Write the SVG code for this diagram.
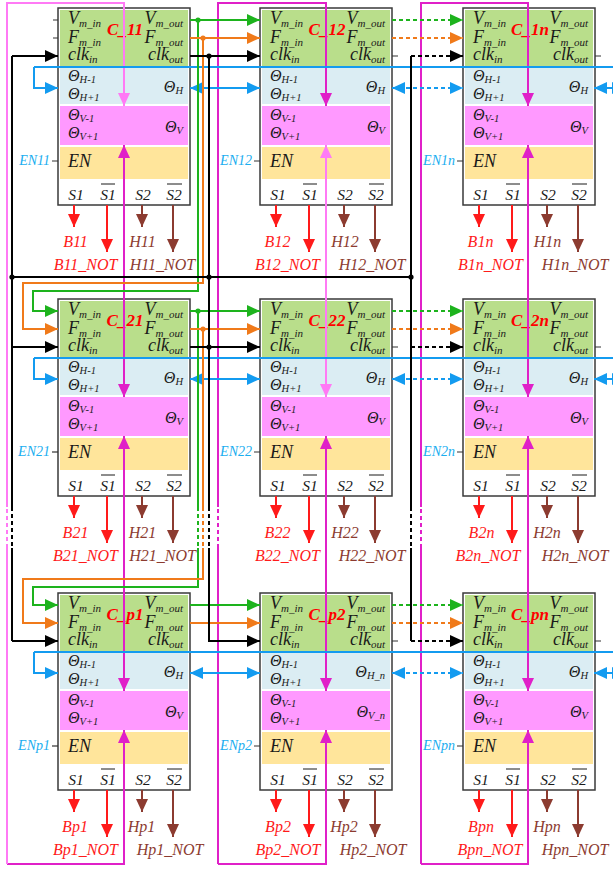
<svg xmlns="http://www.w3.org/2000/svg" width="613" height="870" viewBox="0 0 613 870">
<defs>
<style>
.box{fill:#fff;stroke:#3a3a3a;stroke-width:1.5}
.zg{fill:#b9de8b}.zb{fill:#dbedf3}.zm{fill:#ff99ff}.zy{fill:#ffe59b}
text{font-family:"Liberation Serif","Times New Roman",serif;font-style:italic}
.t{font-size:18px;fill:#1a1a1a}
.q{font-size:16px;fill:#1a1a1a}
.s{font-size:11px}
.s2{font-size:10.5px}
.e{text-anchor:end}
.nm{font-weight:bold;font-size:17px;fill:#ff0000;text-anchor:middle}
.sl{font-size:15.5px;fill:#1a1a1a;text-anchor:middle}
.ov{stroke:#1a1a1a;stroke-width:1;fill:none}
.lb{font-size:16px;text-anchor:middle}
.r{fill:#ff1a1a}.b{fill:#8c3b30}
.en{font-size:14px;fill:#1aaef0;text-anchor:end}
.tk{stroke:#333;stroke-width:1.2;fill:none}
.ln{fill:none;stroke-width:2}
.g{stroke:#1db31d}.o{stroke:#f07a1a}.k{stroke:#000}.bl{stroke:#139bf0}.mg{stroke:#e020c8}.lp{stroke:#ff7af5}.rd{stroke:#ff1a1a}.bn{stroke:#8c3b30}
.d{stroke-dasharray:4 3}
</style>
<marker id="mG" viewBox="0 0 13 12" refX="13" refY="6" markerWidth="13" markerHeight="12" markerUnits="userSpaceOnUse" orient="auto-start-reverse"><path d="M0,0 L13,6 L0,12 z" fill="#1db31d"/></marker>
<marker id="mO" viewBox="0 0 13 12" refX="13" refY="6" markerWidth="13" markerHeight="12" markerUnits="userSpaceOnUse" orient="auto-start-reverse"><path d="M0,0 L13,6 L0,12 z" fill="#f07a1a"/></marker>
<marker id="mK" viewBox="0 0 13 12" refX="13" refY="6" markerWidth="13" markerHeight="12" markerUnits="userSpaceOnUse" orient="auto-start-reverse"><path d="M0,0 L13,6 L0,12 z" fill="#000"/></marker>
<marker id="mB" viewBox="0 0 13 12" refX="13" refY="6" markerWidth="13" markerHeight="12" markerUnits="userSpaceOnUse" orient="auto-start-reverse"><path d="M0,0 L13,6 L0,12 z" fill="#139bf0"/></marker>
<marker id="mM" viewBox="0 0 13 12" refX="13" refY="6" markerWidth="13" markerHeight="12" markerUnits="userSpaceOnUse" orient="auto-start-reverse"><path d="M0,0 L13,6 L0,12 z" fill="#e020c8"/></marker>
<marker id="mL" viewBox="0 0 13 12" refX="13" refY="6" markerWidth="13" markerHeight="12" markerUnits="userSpaceOnUse" orient="auto-start-reverse"><path d="M0,0 L13,6 L0,12 z" fill="#ff7af5"/></marker>
<marker id="mR" viewBox="0 0 13 12" refX="13" refY="6" markerWidth="13" markerHeight="12" markerUnits="userSpaceOnUse" orient="auto-start-reverse"><path d="M0,0 L13,6 L0,12 z" fill="#ff1a1a"/></marker>
<marker id="mN" viewBox="0 0 13 12" refX="13" refY="6" markerWidth="13" markerHeight="12" markerUnits="userSpaceOnUse" orient="auto-start-reverse"><path d="M0,0 L13,6 L0,12 z" fill="#8c3b30"/></marker>
</defs>
<rect width="613" height="870" fill="#fff"/>

<g id="nodes">
<g id="C11" transform="translate(58,8)">
<rect class="box" width="132" height="197"/><rect class="zg" x="2" y="2" width="128" height="56"/><rect class="zb" x="2" y="60" width="128" height="36"/><rect class="zm" x="2" y="98" width="128" height="39"/><rect class="zy" x="2" y="139" width="128" height="32"/>
<text class="t" x="10" y="16">V<tspan class="s" dy="3">m_in</tspan></text><text class="t" x="10" y="35">F<tspan class="s" dy="3">m_in</tspan></text><text class="t" x="10" y="52">clk<tspan class="s" dy="3">in</tspan></text>
<text class="t e" x="125" y="16">V<tspan class="s" dy="3">m_out</tspan></text><text class="t e" x="125" y="35">F<tspan class="s" dy="3">m_out</tspan></text><text class="t e" x="125" y="52">clk<tspan class="s" dy="3">out</tspan></text>
<text class="nm" x="67" y="27">C_11</text>
<text class="q" x="10" y="73">Θ<tspan class="s2" dy="2">H-1</tspan></text><text class="q" x="10" y="91">Θ<tspan class="s2" dy="2">H+1</tspan></text><text class="q e" x="125" y="84">Θ<tspan class="s2" dy="2">H</tspan></text>
<text class="q" x="10" y="112">Θ<tspan class="s2" dy="2">V-1</tspan></text><text class="q" x="10" y="130">Θ<tspan class="s2" dy="2">V+1</tspan></text><text class="q e" x="125" y="124">Θ<tspan class="s2" dy="2">V</tspan></text>
<text class="t" x="10" y="159">EN</text>
<text class="sl" x="18" y="192">S1</text><text class="sl" x="50" y="192">S1</text><text class="sl" x="85" y="192">S2</text><text class="sl" x="116" y="192">S2</text><path class="ov" d="M43,176H57M109,176H124"/>
<text class="en" x="-8" y="157">EN11</text><path class="tk" d="M-6,153H0M-5,12H0M-5,30H0"/>
<path class="ln rd" d="M16,197V219" marker-end="url(#mR)"/><path class="ln rd" d="M49,197V244" marker-end="url(#mR)"/><path class="ln bn" d="M84,197V219" marker-end="url(#mN)"/><path class="ln bn" d="M115,197V244" marker-end="url(#mN)"/>
<text class="lb r" x="17.5" y="239">B11</text><text class="lb r" x="27.5" y="262">B11_NOT</text><text class="lb b" x="84.5" y="239">H11</text><text class="lb b" x="104.5" y="262">H11_NOT</text>
</g>
<g id="C12" transform="translate(260,8)">
<rect class="box" width="132" height="197"/><rect class="zg" x="2" y="2" width="128" height="56"/><rect class="zb" x="2" y="60" width="128" height="36"/><rect class="zm" x="2" y="98" width="128" height="39"/><rect class="zy" x="2" y="139" width="128" height="32"/>
<text class="t" x="10" y="16">V<tspan class="s" dy="3">m_in</tspan></text><text class="t" x="10" y="35">F<tspan class="s" dy="3">m_in</tspan></text><text class="t" x="10" y="52">clk<tspan class="s" dy="3">in</tspan></text>
<text class="t e" x="125" y="16">V<tspan class="s" dy="3">m_out</tspan></text><text class="t e" x="125" y="35">F<tspan class="s" dy="3">m_out</tspan></text><text class="t e" x="125" y="52">clk<tspan class="s" dy="3">out</tspan></text>
<text class="nm" x="67" y="27">C_12</text>
<text class="q" x="10" y="73">Θ<tspan class="s2" dy="2">H-1</tspan></text><text class="q" x="10" y="91">Θ<tspan class="s2" dy="2">H+1</tspan></text><text class="q e" x="125" y="84">Θ<tspan class="s2" dy="2">H</tspan></text>
<text class="q" x="10" y="112">Θ<tspan class="s2" dy="2">V-1</tspan></text><text class="q" x="10" y="130">Θ<tspan class="s2" dy="2">V+1</tspan></text><text class="q e" x="125" y="124">Θ<tspan class="s2" dy="2">V</tspan></text>
<text class="t" x="10" y="159">EN</text>
<text class="sl" x="18" y="192">S1</text><text class="sl" x="50" y="192">S1</text><text class="sl" x="85" y="192">S2</text><text class="sl" x="116" y="192">S2</text><path class="ov" d="M43,176H57M109,176H124"/>
<text class="en" x="-8" y="157">EN12</text><path class="tk" d="M-6,153H0M132,48H138"/>
<path class="ln rd" d="M16,197V219" marker-end="url(#mR)"/><path class="ln rd" d="M49,197V244" marker-end="url(#mR)"/><path class="ln bn" d="M84,197V219" marker-end="url(#mN)"/><path class="ln bn" d="M115,197V244" marker-end="url(#mN)"/>
<text class="lb r" x="17.5" y="239">B12</text><text class="lb r" x="27.5" y="262">B12_NOT</text><text class="lb b" x="85" y="239">H12</text><text class="lb b" x="112" y="262">H12_NOT</text>
</g>
<g id="C1n" transform="translate(463,8)">
<rect class="box" width="132" height="197"/><rect class="zg" x="2" y="2" width="128" height="56"/><rect class="zb" x="2" y="60" width="128" height="36"/><rect class="zm" x="2" y="98" width="128" height="39"/><rect class="zy" x="2" y="139" width="128" height="32"/>
<text class="t" x="10" y="16">V<tspan class="s" dy="3">m_in</tspan></text><text class="t" x="10" y="35">F<tspan class="s" dy="3">m_in</tspan></text><text class="t" x="10" y="52">clk<tspan class="s" dy="3">in</tspan></text>
<text class="t e" x="125" y="16">V<tspan class="s" dy="3">m_out</tspan></text><text class="t e" x="125" y="35">F<tspan class="s" dy="3">m_out</tspan></text><text class="t e" x="125" y="52">clk<tspan class="s" dy="3">out</tspan></text>
<text class="nm" x="67" y="27">C_1n</text>
<text class="q" x="10" y="73">Θ<tspan class="s2" dy="2">H-1</tspan></text><text class="q" x="10" y="91">Θ<tspan class="s2" dy="2">H+1</tspan></text><text class="q e" x="125" y="84">Θ<tspan class="s2" dy="2">H</tspan></text>
<text class="q" x="10" y="112">Θ<tspan class="s2" dy="2">V-1</tspan></text><text class="q" x="10" y="130">Θ<tspan class="s2" dy="2">V+1</tspan></text><text class="q e" x="125" y="124">Θ<tspan class="s2" dy="2">V</tspan></text>
<text class="t" x="10" y="159">EN</text>
<text class="sl" x="18" y="192">S1</text><text class="sl" x="50" y="192">S1</text><text class="sl" x="85" y="192">S2</text><text class="sl" x="116" y="192">S2</text><path class="ov" d="M43,176H57M109,176H124"/>
<text class="en" x="-8" y="157">EN1n</text><path class="tk" d="M-6,153H0M132,48H138"/>
<path class="ln rd" d="M16,197V219" marker-end="url(#mR)"/><path class="ln rd" d="M49,197V244" marker-end="url(#mR)"/><path class="ln bn" d="M84,197V219" marker-end="url(#mN)"/><path class="ln bn" d="M115,197V244" marker-end="url(#mN)"/>
<text class="lb r" x="17.5" y="239">B1n</text><text class="lb r" x="27.5" y="262">B1n_NOT</text><text class="lb b" x="84.5" y="239">H1n</text><text class="lb b" x="112" y="262">H1n_NOT</text>
</g>

<g id="C21" transform="translate(58,299)">
<rect class="box" width="132" height="197"/><rect class="zg" x="2" y="2" width="128" height="56"/><rect class="zb" x="2" y="60" width="128" height="36"/><rect class="zm" x="2" y="98" width="128" height="39"/><rect class="zy" x="2" y="139" width="128" height="32"/>
<text class="t" x="10" y="16">V<tspan class="s" dy="3">m_in</tspan></text><text class="t" x="10" y="35">F<tspan class="s" dy="3">m_in</tspan></text><text class="t" x="10" y="52">clk<tspan class="s" dy="3">in</tspan></text>
<text class="t e" x="125" y="16">V<tspan class="s" dy="3">m_out</tspan></text><text class="t e" x="125" y="35">F<tspan class="s" dy="3">m_out</tspan></text><text class="t e" x="125" y="52">clk<tspan class="s" dy="3">out</tspan></text>
<text class="nm" x="67" y="27">C_21</text>
<text class="q" x="10" y="73">Θ<tspan class="s2" dy="2">H-1</tspan></text><text class="q" x="10" y="91">Θ<tspan class="s2" dy="2">H+1</tspan></text><text class="q e" x="125" y="84">Θ<tspan class="s2" dy="2">H</tspan></text>
<text class="q" x="10" y="112">Θ<tspan class="s2" dy="2">V-1</tspan></text><text class="q" x="10" y="130">Θ<tspan class="s2" dy="2">V+1</tspan></text><text class="q e" x="125" y="124">Θ<tspan class="s2" dy="2">V</tspan></text>
<text class="t" x="10" y="159">EN</text>
<text class="sl" x="18" y="192">S1</text><text class="sl" x="50" y="192">S1</text><text class="sl" x="85" y="192">S2</text><text class="sl" x="116" y="192">S2</text><path class="ov" d="M43,176H57M109,176H124"/>
<text class="en" x="-8" y="157">EN21</text><path class="tk" d="M-6,153H0"/>
<path class="ln rd" d="M16,197V219" marker-end="url(#mR)"/><path class="ln rd" d="M49,197V244" marker-end="url(#mR)"/><path class="ln bn" d="M84,197V219" marker-end="url(#mN)"/><path class="ln bn" d="M115,197V244" marker-end="url(#mN)"/>
<text class="lb r" x="17.5" y="239">B21</text><text class="lb r" x="27.5" y="262">B21_NOT</text><text class="lb b" x="84.5" y="239">H21</text><text class="lb b" x="104.5" y="262">H21_NOT</text>
</g>
<g id="C22" transform="translate(260,299)">
<rect class="box" width="132" height="197"/><rect class="zg" x="2" y="2" width="128" height="56"/><rect class="zb" x="2" y="60" width="128" height="36"/><rect class="zm" x="2" y="98" width="128" height="39"/><rect class="zy" x="2" y="139" width="128" height="32"/>
<text class="t" x="10" y="16">V<tspan class="s" dy="3">m_in</tspan></text><text class="t" x="10" y="35">F<tspan class="s" dy="3">m_in</tspan></text><text class="t" x="10" y="52">clk<tspan class="s" dy="3">in</tspan></text>
<text class="t e" x="125" y="16">V<tspan class="s" dy="3">m_out</tspan></text><text class="t e" x="125" y="35">F<tspan class="s" dy="3">m_out</tspan></text><text class="t e" x="125" y="52">clk<tspan class="s" dy="3">out</tspan></text>
<text class="nm" x="67" y="27">C_22</text>
<text class="q" x="10" y="73">Θ<tspan class="s2" dy="2">H-1</tspan></text><text class="q" x="10" y="91">Θ<tspan class="s2" dy="2">H+1</tspan></text><text class="q e" x="125" y="84">Θ<tspan class="s2" dy="2">H</tspan></text>
<text class="q" x="10" y="112">Θ<tspan class="s2" dy="2">V-1</tspan></text><text class="q" x="10" y="130">Θ<tspan class="s2" dy="2">V+1</tspan></text><text class="q e" x="125" y="124">Θ<tspan class="s2" dy="2">V</tspan></text>
<text class="t" x="10" y="159">EN</text>
<text class="sl" x="18" y="192">S1</text><text class="sl" x="50" y="192">S1</text><text class="sl" x="85" y="192">S2</text><text class="sl" x="116" y="192">S2</text><path class="ov" d="M43,176H57M109,176H124"/>
<text class="en" x="-8" y="157">EN22</text><path class="tk" d="M-6,153H0M132,48H138"/>
<path class="ln rd" d="M16,197V219" marker-end="url(#mR)"/><path class="ln rd" d="M49,197V244" marker-end="url(#mR)"/><path class="ln bn" d="M84,197V219" marker-end="url(#mN)"/><path class="ln bn" d="M115,197V244" marker-end="url(#mN)"/>
<text class="lb r" x="17.5" y="239">B22</text><text class="lb r" x="27.5" y="262">B22_NOT</text><text class="lb b" x="85" y="239">H22</text><text class="lb b" x="112" y="262">H22_NOT</text>
</g>
<g id="C2n" transform="translate(463,299)">
<rect class="box" width="132" height="197"/><rect class="zg" x="2" y="2" width="128" height="56"/><rect class="zb" x="2" y="60" width="128" height="36"/><rect class="zm" x="2" y="98" width="128" height="39"/><rect class="zy" x="2" y="139" width="128" height="32"/>
<text class="t" x="10" y="16">V<tspan class="s" dy="3">m_in</tspan></text><text class="t" x="10" y="35">F<tspan class="s" dy="3">m_in</tspan></text><text class="t" x="10" y="52">clk<tspan class="s" dy="3">in</tspan></text>
<text class="t e" x="125" y="16">V<tspan class="s" dy="3">m_out</tspan></text><text class="t e" x="125" y="35">F<tspan class="s" dy="3">m_out</tspan></text><text class="t e" x="125" y="52">clk<tspan class="s" dy="3">out</tspan></text>
<text class="nm" x="67" y="27">C_2n</text>
<text class="q" x="10" y="73">Θ<tspan class="s2" dy="2">H-1</tspan></text><text class="q" x="10" y="91">Θ<tspan class="s2" dy="2">H+1</tspan></text><text class="q e" x="125" y="84">Θ<tspan class="s2" dy="2">H</tspan></text>
<text class="q" x="10" y="112">Θ<tspan class="s2" dy="2">V-1</tspan></text><text class="q" x="10" y="130">Θ<tspan class="s2" dy="2">V+1</tspan></text><text class="q e" x="125" y="124">Θ<tspan class="s2" dy="2">V</tspan></text>
<text class="t" x="10" y="159">EN</text>
<text class="sl" x="18" y="192">S1</text><text class="sl" x="50" y="192">S1</text><text class="sl" x="85" y="192">S2</text><text class="sl" x="116" y="192">S2</text><path class="ov" d="M43,176H57M109,176H124"/>
<text class="en" x="-8" y="157">EN2n</text><path class="tk" d="M-6,153H0M132,48H138"/>
<path class="ln rd" d="M16,197V219" marker-end="url(#mR)"/><path class="ln rd" d="M49,197V244" marker-end="url(#mR)"/><path class="ln bn" d="M84,197V219" marker-end="url(#mN)"/><path class="ln bn" d="M115,197V244" marker-end="url(#mN)"/>
<text class="lb r" x="18.5" y="239">B2n</text><text class="lb r" x="25" y="262">B2n_NOT</text><text class="lb b" x="84" y="239">H2n</text><text class="lb b" x="112" y="262">H2n_NOT</text>
</g>

<g id="Cp1" transform="translate(58,593)">
<rect class="box" width="132" height="197"/><rect class="zg" x="2" y="2" width="128" height="56"/><rect class="zb" x="2" y="60" width="128" height="36"/><rect class="zm" x="2" y="98" width="128" height="39"/><rect class="zy" x="2" y="139" width="128" height="32"/>
<text class="t" x="10" y="16">V<tspan class="s" dy="3">m_in</tspan></text><text class="t" x="10" y="35">F<tspan class="s" dy="3">m_in</tspan></text><text class="t" x="10" y="52">clk<tspan class="s" dy="3">in</tspan></text>
<text class="t e" x="125" y="16">V<tspan class="s" dy="3">m_out</tspan></text><text class="t e" x="125" y="35">F<tspan class="s" dy="3">m_out</tspan></text><text class="t e" x="125" y="52">clk<tspan class="s" dy="3">out</tspan></text>
<text class="nm" x="67" y="27">C_p1</text>
<text class="q" x="10" y="73">Θ<tspan class="s2" dy="2">H-1</tspan></text><text class="q" x="10" y="91">Θ<tspan class="s2" dy="2">H+1</tspan></text><text class="q e" x="125" y="84">Θ<tspan class="s2" dy="2">H</tspan></text>
<text class="q" x="10" y="112">Θ<tspan class="s2" dy="2">V-1</tspan></text><text class="q" x="10" y="130">Θ<tspan class="s2" dy="2">V+1</tspan></text><text class="q e" x="125" y="124">Θ<tspan class="s2" dy="2">V</tspan></text>
<text class="t" x="10" y="159">EN</text>
<text class="sl" x="18" y="192">S1</text><text class="sl" x="50" y="192">S1</text><text class="sl" x="85" y="192">S2</text><text class="sl" x="116" y="192">S2</text><path class="ov" d="M43,176H57M109,176H124"/>
<text class="en" x="-8" y="157">ENp1</text><path class="tk" d="M-6,153H0"/>
<path class="ln rd" d="M16,197V219" marker-end="url(#mR)"/><path class="ln rd" d="M49,197V244" marker-end="url(#mR)"/><path class="ln bn" d="M84,197V219" marker-end="url(#mN)"/><path class="ln bn" d="M115,197V244" marker-end="url(#mN)"/>
<text class="lb r" x="17" y="239">Bp1</text><text class="lb r" x="27.5" y="262">Bp1_NOT</text><text class="lb b" x="83.5" y="239">Hp1</text><text class="lb b" x="112" y="262">Hp1_NOT</text>
</g>
<g id="Cp2" transform="translate(260,593)">
<rect class="box" width="132" height="197"/><rect class="zg" x="2" y="2" width="128" height="56"/><rect class="zb" x="2" y="60" width="128" height="36"/><rect class="zm" x="2" y="98" width="128" height="39"/><rect class="zy" x="2" y="139" width="128" height="32"/>
<text class="t" x="10" y="16">V<tspan class="s" dy="3">m_in</tspan></text><text class="t" x="10" y="35">F<tspan class="s" dy="3">m_in</tspan></text><text class="t" x="10" y="52">clk<tspan class="s" dy="3">in</tspan></text>
<text class="t e" x="125" y="16">V<tspan class="s" dy="3">m_out</tspan></text><text class="t e" x="125" y="35">F<tspan class="s" dy="3">m_out</tspan></text><text class="t e" x="125" y="52">clk<tspan class="s" dy="3">out</tspan></text>
<text class="nm" x="67" y="27">C_p2</text>
<text class="q" x="10" y="73">Θ<tspan class="s2" dy="2">H-1</tspan></text><text class="q" x="10" y="91">Θ<tspan class="s2" dy="2">H+1</tspan></text><text class="q e" x="125" y="84">Θ<tspan class="s2" dy="2">H_n</tspan></text>
<text class="q" x="10" y="112">Θ<tspan class="s2" dy="2">V-1</tspan></text><text class="q" x="10" y="130">Θ<tspan class="s2" dy="2">V+1</tspan></text><text class="q e" x="125" y="124">Θ<tspan class="s2" dy="2">V_n</tspan></text>
<text class="t" x="10" y="159">EN</text>
<text class="sl" x="18" y="192">S1</text><text class="sl" x="50" y="192">S1</text><text class="sl" x="85" y="192">S2</text><text class="sl" x="116" y="192">S2</text><path class="ov" d="M43,176H57M109,176H124"/>
<text class="en" x="-8" y="157">ENp2</text><path class="tk" d="M-6,153H0M132,48H138"/>
<path class="ln rd" d="M16,197V219" marker-end="url(#mR)"/><path class="ln rd" d="M49,197V244" marker-end="url(#mR)"/><path class="ln bn" d="M84,197V219" marker-end="url(#mN)"/><path class="ln bn" d="M115,197V244" marker-end="url(#mN)"/>
<text class="lb r" x="18" y="239">Bp2</text><text class="lb r" x="28" y="262">Bp2_NOT</text><text class="lb b" x="84" y="239">Hp2</text><text class="lb b" x="113" y="262">Hp2_NOT</text>
</g>
<g id="Cpn" transform="translate(463,593)">
<rect class="box" width="132" height="197"/><rect class="zg" x="2" y="2" width="128" height="56"/><rect class="zb" x="2" y="60" width="128" height="36"/><rect class="zm" x="2" y="98" width="128" height="39"/><rect class="zy" x="2" y="139" width="128" height="32"/>
<text class="t" x="10" y="16">V<tspan class="s" dy="3">m_in</tspan></text><text class="t" x="10" y="35">F<tspan class="s" dy="3">m_in</tspan></text><text class="t" x="10" y="52">clk<tspan class="s" dy="3">in</tspan></text>
<text class="t e" x="125" y="16">V<tspan class="s" dy="3">m_out</tspan></text><text class="t e" x="125" y="35">F<tspan class="s" dy="3">m_out</tspan></text><text class="t e" x="125" y="52">clk<tspan class="s" dy="3">out</tspan></text>
<text class="nm" x="67" y="27">C_pn</text>
<text class="q" x="10" y="73">Θ<tspan class="s2" dy="2">H-1</tspan></text><text class="q" x="10" y="91">Θ<tspan class="s2" dy="2">H+1</tspan></text><text class="q e" x="125" y="84">Θ<tspan class="s2" dy="2">H</tspan></text>
<text class="q" x="10" y="112">Θ<tspan class="s2" dy="2">V-1</tspan></text><text class="q" x="10" y="130">Θ<tspan class="s2" dy="2">V+1</tspan></text><text class="q e" x="125" y="124">Θ<tspan class="s2" dy="2">V</tspan></text>
<text class="t" x="10" y="159">EN</text>
<text class="sl" x="18" y="192">S1</text><text class="sl" x="50" y="192">S1</text><text class="sl" x="85" y="192">S2</text><text class="sl" x="116" y="192">S2</text><path class="ov" d="M43,176H57M109,176H124"/>
<text class="en" x="-8" y="157">ENpn</text><path class="tk" d="M-6,153H0M132,48H138"/>
<path class="ln rd" d="M16,197V219" marker-end="url(#mR)"/><path class="ln rd" d="M49,197V244" marker-end="url(#mR)"/><path class="ln bn" d="M84,197V219" marker-end="url(#mN)"/><path class="ln bn" d="M115,197V244" marker-end="url(#mN)"/>
<text class="lb r" x="18" y="239">Bpn</text><text class="lb r" x="27" y="262">Bpn_NOT</text><text class="lb b" x="84" y="239">Hpn</text><text class="lb b" x="112" y="262">Hpn_NOT</text>
</g>
</g>

<g id="connectors">
<path class="ln mg" d="M7,864H124V730" marker-end="url(#mM)"/>
<path class="ln lp" d="M7,864V548"/><path class="ln lp d" d="M7,548V507"/><path class="ln lp" d="M7,507V3H124V106" marker-end="url(#mL)"/>
<path class="ln mg" d="M124,145V397" marker-start="url(#mM)" marker-end="url(#mM)"/>
<path class="ln mg" d="M124,436V691" marker-start="url(#mM)" marker-end="url(#mM)"/>

<path class="ln mg" d="M218,864H326V730" marker-end="url(#mM)"/>
<path class="ln mg" d="M218,864V548"/><path class="ln mg d" d="M218,548V507"/><path class="ln mg" d="M218,507V3H326V106" marker-end="url(#mM)"/>
<path class="ln lp" d="M326,145V397" marker-start="url(#mL)" marker-end="url(#mL)"/>
<path class="ln mg" d="M326,436V691" marker-start="url(#mM)" marker-end="url(#mM)"/>

<path class="ln mg" d="M421,864H528V730" marker-end="url(#mM)"/>
<path class="ln mg" d="M421,864V548"/><path class="ln mg d" d="M421,548V507"/><path class="ln mg" d="M421,507V3H528V106" marker-end="url(#mM)"/>
<path class="ln mg" d="M528,145V397" marker-start="url(#mM)" marker-end="url(#mM)"/>
<path class="ln mg" d="M528,436V691" marker-start="url(#mM)" marker-end="url(#mM)"/>

<path class="ln bl" d="M34,67H613"/><path class="ln bl" d="M34,67V88H58" marker-end="url(#mB)"/>
<path class="ln bl" d="M190,88H260" marker-start="url(#mB)" marker-end="url(#mB)"/>
<path class="ln bl d" d="M392,88H463" marker-start="url(#mB)" marker-end="url(#mB)"/>
<path class="ln bl" d="M594,88H625" marker-start="url(#mB)" marker-end="url(#mB)"/>
<path class="ln bl" d="M34,358H613"/><path class="ln bl" d="M34,358V379H58" marker-end="url(#mB)"/>
<path class="ln bl" d="M190,379H260" marker-start="url(#mB)" marker-end="url(#mB)"/>
<path class="ln bl d" d="M392,379H463" marker-start="url(#mB)" marker-end="url(#mB)"/>
<path class="ln bl" d="M594,379H625" marker-start="url(#mB)" marker-end="url(#mB)"/>
<path class="ln bl" d="M34,652H613"/><path class="ln bl" d="M34,652V673H58" marker-end="url(#mB)"/>
<path class="ln bl" d="M190,673H260" marker-start="url(#mB)" marker-end="url(#mB)"/>
<path class="ln bl d" d="M392,673H463" marker-start="url(#mB)" marker-end="url(#mB)"/>
<path class="ln bl" d="M594,673H625" marker-start="url(#mB)" marker-end="url(#mB)"/>

<path class="ln g" d="M190,20H260" marker-end="url(#mG)"/>
<path class="ln g" d="M198,20V291H33V311H58" marker-end="url(#mG)"/>
<path class="ln g d" d="M392,20H463" marker-end="url(#mG)"/>
<path class="ln g" d="M190,311H260" marker-end="url(#mG)"/>
<path class="ln g" d="M198,311V507"/><path class="ln g d" d="M198,507V548"/><path class="ln g" d="M198,548V587H33V605H58" marker-end="url(#mG)"/>
<path class="ln g d" d="M392,311H463" marker-end="url(#mG)"/>
<path class="ln g" d="M190,605H260" marker-end="url(#mG)"/>
<path class="ln g d" d="M392,605H463" marker-end="url(#mG)"/>

<path class="ln o" d="M190,38H260" marker-end="url(#mO)"/>
<path class="ln o" d="M203,38V283H23V329H58" marker-end="url(#mO)"/>
<path class="ln o d" d="M392,38H463" marker-end="url(#mO)"/>
<path class="ln o" d="M190,329H260" marker-end="url(#mO)"/>
<path class="ln o" d="M203,329V507"/><path class="ln o d" d="M203,507V548"/><path class="ln o" d="M203,548V579H23V623H58" marker-end="url(#mO)"/>
<path class="ln o d" d="M392,329H463" marker-end="url(#mO)"/>
<path class="ln o" d="M190,623H260" marker-end="url(#mO)"/>
<path class="ln o d" d="M392,623H463" marker-end="url(#mO)"/>

<path class="ln k" d="M12,56V507"/><path class="ln k d" d="M12,507V548"/><path class="ln k" d="M12,548V641"/>
<path class="ln k" d="M12,56H58" marker-end="url(#mK)"/>
<path class="ln k" d="M12,347H58" marker-end="url(#mK)"/>
<path class="ln k" d="M12,641H58" marker-end="url(#mK)"/>
<path class="ln k" d="M12,277H411"/>
<path class="ln k" d="M190,56H260" marker-end="url(#mK)"/>
<path class="ln k" d="M190,347H260" marker-end="url(#mK)"/>
<path class="ln k" d="M209,56V507"/><path class="ln k d" d="M209,507V548"/><path class="ln k" d="M209,548V641H260" marker-end="url(#mK)"/>
<path class="ln k" d="M411,56V507"/><path class="ln k d" d="M411,507V548"/><path class="ln k" d="M411,548V641"/>
<path class="ln k d" d="M411,56H463" marker-end="url(#mK)"/>
<path class="ln k d" d="M411,347H463" marker-end="url(#mK)"/>
<path class="ln k d" d="M411,641H463" marker-end="url(#mK)"/>

<circle cx="198" cy="20" r="2.6" fill="#1db31d"/><circle cx="203" cy="38" r="2.6" fill="#f07a1a"/><circle cx="209" cy="56" r="2.6" fill="#000"/>
<circle cx="198" cy="311" r="2.6" fill="#1db31d"/><circle cx="203" cy="329" r="2.6" fill="#f07a1a"/><circle cx="209" cy="347" r="2.6" fill="#000"/>
<circle cx="12" cy="277" r="2.6" fill="#000"/><circle cx="209" cy="277" r="2.6" fill="#000"/><circle cx="411" cy="277" r="2.6" fill="#000"/>
</g>
</svg>
